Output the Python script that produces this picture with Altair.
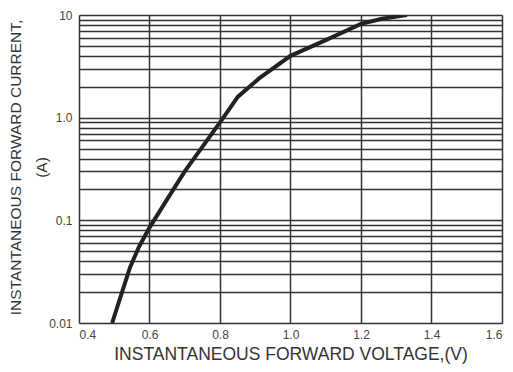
import altair as alt
import pandas as pd

# Forward voltage (V) and forward current (A)
voltage = [0.494, 0.52, 0.545, 0.57, 0.60, 0.65, 0.70, 0.75, 0.80, 0.851, 0.91, 1.0, 1.1, 1.2, 1.26, 1.33]
current = [0.01, 0.019, 0.035, 0.055, 0.085, 0.16, 0.30, 0.52, 0.90, 1.6, 2.4, 4.0, 5.7, 8.2, 9.2, 10.0]

x_ticks = [0.4, 0.6, 0.8, 1.0, 1.2, 1.4, 1.6]
y_grid = [0.01, 0.02, 0.03, 0.04, 0.05, 0.06, 0.07, 0.08, 0.09,
          0.1, 0.2, 0.3, 0.4, 0.5, 0.6, 0.7, 0.8, 0.9,
          1, 2, 3, 4, 5, 6, 7, 8, 9, 10]
y_label_values = [0.01, 0.1, 1, 10]
y_label_texts = ["0.01", "0.1", "1.0", "10"]

df = pd.DataFrame({"V": voltage, "I": current})

label_expr = " : ".join(
    f"datum.value == {v} ? '{t}'" for v, t in zip(y_label_values, y_label_texts)
) + " : ''"

FONT = "Liberation Sans"
GRID = "#333333"

chart = (
    alt.Chart(df)
    .mark_line(color="#222222", strokeWidth=4, clip=True)
    .encode(
        x=alt.X(
            "V:Q",
            scale=alt.Scale(domain=[0.4, 1.6], nice=False, zero=False),
            axis=alt.Axis(
                values=x_ticks,
                format=".1f",
                title="INSTANTANEOUS FORWARD VOLTAGE,(V)",
                grid=True,
                gridColor=GRID,
                gridWidth=1.5,
                gridOpacity=1,
                ticks=False,
                domain=False,
                labelFont=FONT,
                labelFontSize=12,
                labelColor="#444444",
                labelPadding=6,
                labelOverlap=False,
                titleFont=FONT,
                titleFontSize=17.5,
                titleFontWeight="normal",
                titleColor="#333333",
                titleBaseline="alphabetic",
                titleY=36,
            ),
        ),
        y=alt.Y(
            "I:Q",
            scale=alt.Scale(type="log", domain=[0.01, 10], nice=False),
            axis=alt.Axis(
                values=y_grid,
                labelExpr=label_expr,
                title=["INSTANTANEOUS FORWARD CURRENT,", "(A)"],
                grid=True,
                gridColor=GRID,
                gridWidth=1.5,
                gridOpacity=1,
                ticks=False,
                domain=False,
                labelFont=FONT,
                labelFontSize=12,
                labelColor="#444444",
                labelPadding=7,
                labelOverlap=False,
                titleFont=FONT,
                titleFontSize=15.5,
                titleFontWeight="normal",
                titleColor="#333333",
                titleAngle=-90,
                titleBaseline="alphabetic",
                titleAlign="center",
                titleLineHeight=26,
                titleX=-59,
                titleY=152,
            ),
        ),
    )
    .properties(
        width=423,
        height=308,
        autosize=alt.AutoSizeParams(type="none"),
        padding={"left": 71, "top": 7, "right": 3, "bottom": 41},
    )
    .configure_view(stroke=GRID, strokeWidth=1.5)
    .configure(background="white")
)

chart.save("out.html", embed_options={"renderer": "svg", "actions": False})
